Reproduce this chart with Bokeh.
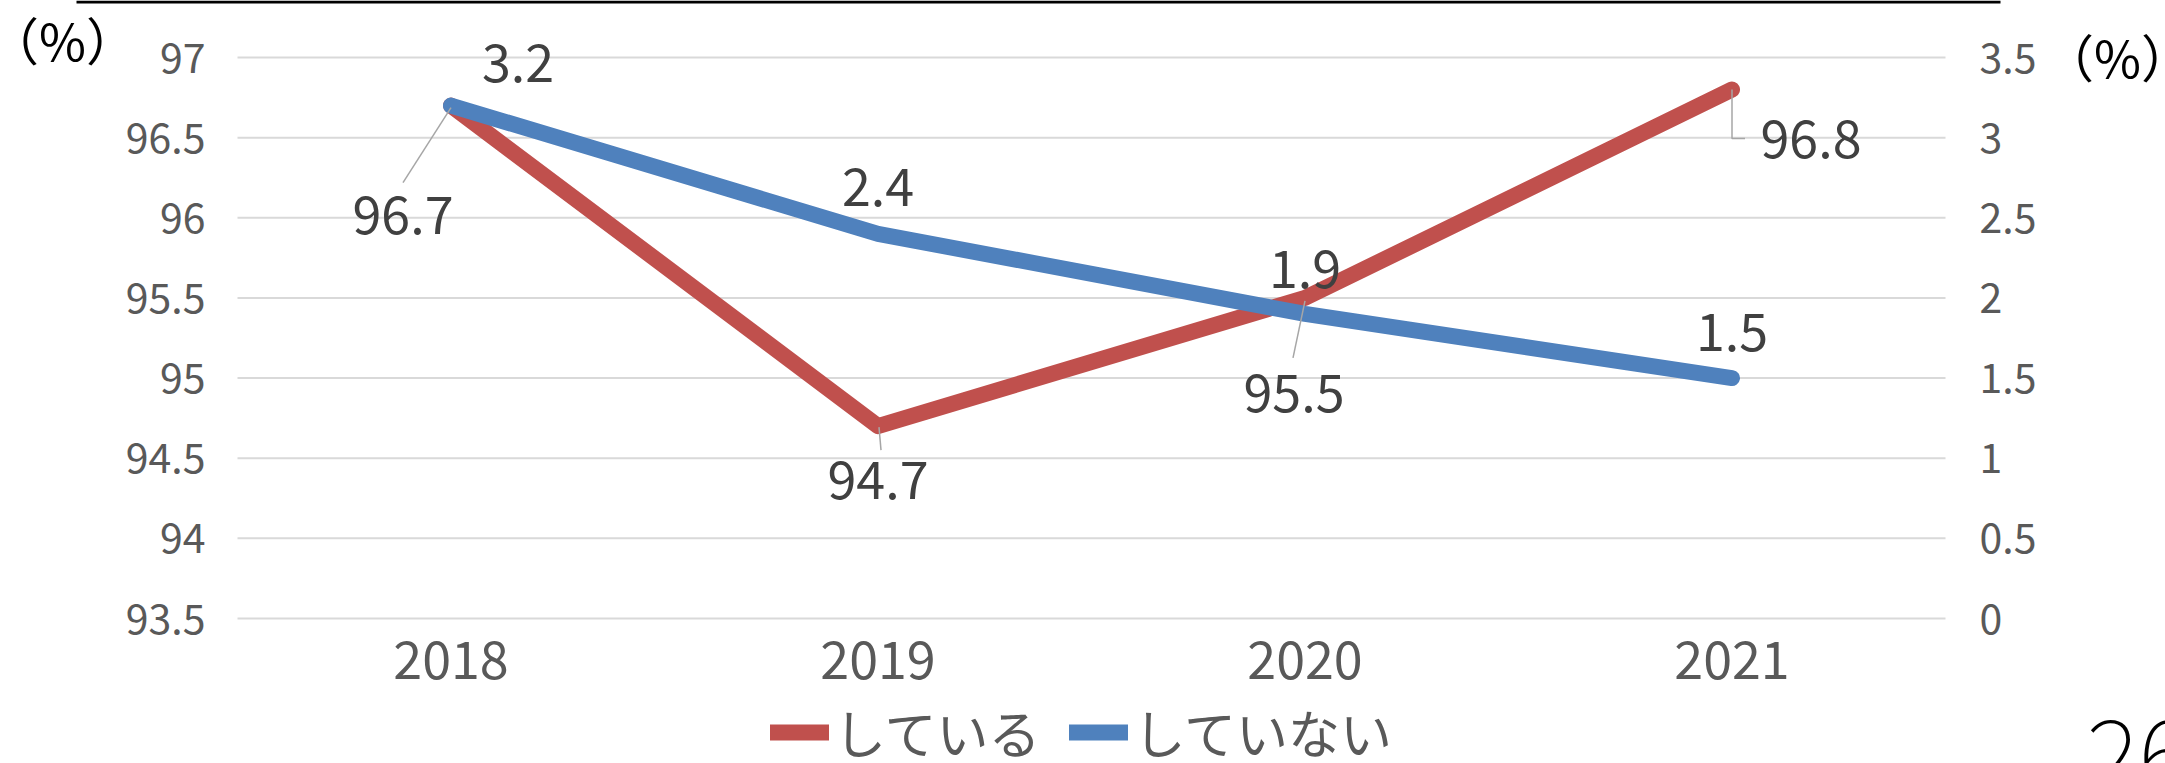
from bokeh.plotting import figure
from bokeh.models import (Range1d, LinearAxis, FixedTicker, CustomJSTickFormatter,
                          ColumnDataSource, LabelSet, Label, Legend, LegendItem, BoxAnnotation)
from bokeh.core.properties import value
from bokeh.embed import file_html
from bokeh.resources import INLINE

# ---- data ----
years = ["2018", "2019", "2020", "2021"]
doing = [96.7, 94.7, 95.5, 96.8]          # している (left axis, %)
not_doing = [3.2, 2.4, 1.9, 1.5]          # していない (right axis, %)
left_ticks = [93.5, 94, 94.5, 95, 95.5, 96, 96.5, 97]
right_ticks = [0, 0.5, 1, 1.5, 2, 2.5, 3, 3.5]
series_names = ["している", "していない"]
unit_label = "（%）"
page_number = "26"

RED = "#C0504D"
BLUE = "#4F81BD"
FONT = "Noto Sans CJK JP"

W, H = 2165, 763
# plotting area (pixels) of the category / value region
AX_L, AX_R, AX_T, AX_B = 237, 1945, 57, 618
PX_X = (AX_R - AX_L) / 4.0
PX_Y = (AX_B - AX_T) / (97 - 93.5)
PX_YR = (AX_B - AX_T) / 3.5

xs = [i + 0.5 for i in range(len(years))]

p = figure(width=W, height=H, output_backend="svg", toolbar_location=None,
           x_range=Range1d(-AX_L / PX_X, 4 + (W - AX_R) / PX_X),
           y_range=Range1d(93.5 - (H - AX_B) / PX_Y, 97 + AX_T / PX_Y),
           min_border=0)
p.extra_y_ranges = {"right": Range1d(0 - (H - AX_B) / PX_YR, 3.5 + AX_T / PX_YR)}
p.outline_line_color = None
p.background_fill_color = "white"
p.border_fill_color = "white"
p.xaxis.visible = False
p.yaxis.visible = False
p.grid.visible = False

fmt = CustomJSTickFormatter(code="return String(tick);")


def style_axis(ax, size, standoff):
    ax.axis_line_color = None
    ax.major_tick_line_color = None
    ax.minor_tick_line_color = None
    ax.major_tick_out = 0
    ax.major_tick_in = 0
    ax.major_label_standoff = standoff
    ax.major_label_text_font = FONT
    ax.major_label_text_font_size = size
    ax.major_label_text_color = "#595959"


xax = LinearAxis(ticker=FixedTicker(ticks=xs), fixed_location=93.5)
xax.major_label_overrides = {x: y for x, y in zip(xs, years)}
style_axis(xax, "52px", 22)
p.add_layout(xax, "below")

lax = LinearAxis(ticker=FixedTicker(ticks=left_ticks), formatter=fmt, fixed_location=0)
style_axis(lax, "41px", 32)
p.add_layout(lax, "left")

rax = LinearAxis(y_range_name="right", ticker=FixedTicker(ticks=right_ticks), formatter=fmt,
                 fixed_location=4)
style_axis(rax, "41px", 34)
p.add_layout(rax, "right")

# horizontal gridlines over the category area
p.segment(x0=0, x1=4, y0=left_ticks, y1=left_ticks, line_color="#D9D9D9", line_width=2)

# lines
r_red = p.line(xs, doing, line_color=RED, line_width=16, line_cap="round", line_join="round")
r_blue = p.line(xs, not_doing, y_range_name="right", line_color=BLUE, line_width=16,
                line_cap="round", line_join="round")

# leader lines (pixel offsets from the point, y down)
leader_px = [
    [(0, 2), (-48, 77)],
    [(1, 1), (3, 24)],
    [(0, 3), (-12, 60)],
    [(0, 0), (0, 49), (13, 49)],
]
lx, ly = [], []
for x, v, pts in zip(xs, doing, leader_px):
    lx.append([x + dx / PX_X for dx, dy in pts])
    ly.append([v - dy / PX_Y for dx, dy in pts])
p.multi_line(lx, ly, line_color="#A6A6A6", line_width=1.5)

# data labels (offsets in px, y up)
red_src = ColumnDataSource(dict(
    x=xs, y=doing, t=["%.1f" % v for v in doing],
    dx=[-48, 0, -11, 79], dy=[-109, -54, -95, -49]))
blue_src = ColumnDataSource(dict(
    x=xs, y=not_doing, t=["%.1f" % v for v in not_doing],
    dx=[67, 0, 0, 0], dy=[43, 47, 45, 46]))
for src, rng in [(red_src, "default"), (blue_src, "right")]:
    ls = LabelSet(x="x", y="y", text="t", source=src, x_offset="dx", y_offset="dy",
                  y_range_name=rng, text_align="center", text_baseline="middle",
                  text_font=value(FONT), text_font_size=value("52px"),
                  text_color=value("#404040"))
    p.add_layout(ls)

# unit labels
p.add_layout(Label(x=(62 - AX_L) / PX_X, y=97 + (AX_T - 38) / PX_Y, text=unit_label,
                   text_align="center", text_baseline="middle", text_font=FONT,
                   text_font_size="51px", text_color="black"))
p.add_layout(Label(x=4 + (2117 - AX_R) / PX_X, y=97 + (AX_T - 55) / PX_Y, text=unit_label,
                   text_align="center", text_baseline="middle", text_font=FONT,
                   text_font_size="51px", text_color="black"))
# page number (cut by the bottom and right edges, as in the source)
p.add_layout(Label(x=(2086 - AX_L) / PX_X, y=93.5 - (718 - AX_B) / PX_Y, text=page_number,
                   text_align="left", text_baseline="top", text_font=FONT,
                   text_font_size="100px", text_color="black"))
# bottom edge of a box above the chart
p.add_layout(BoxAnnotation(left=(76 - AX_L) / PX_X, right=(2000 - AX_L) / PX_X,
                           top=97 + (AX_T - 0) / PX_Y, bottom=97 + (AX_T - 3) / PX_Y,
                           fill_color="black", fill_alpha=1, line_color=None))

legend = Legend(items=[LegendItem(label=series_names[0], renderers=[r_red]),
                       LegendItem(label=series_names[1], renderers=[r_blue])],
                orientation="horizontal", location=(770, -6),
                glyph_width=59, glyph_height=20, label_standoff=5, spacing=29,
                padding=0, margin=0, border_line_color=None, background_fill_alpha=0,
                label_text_font=FONT, label_text_font_size="52px", label_text_color="#595959")
p.add_layout(legend, "center")

open("out.html", "w").write(file_html(p, INLINE))
